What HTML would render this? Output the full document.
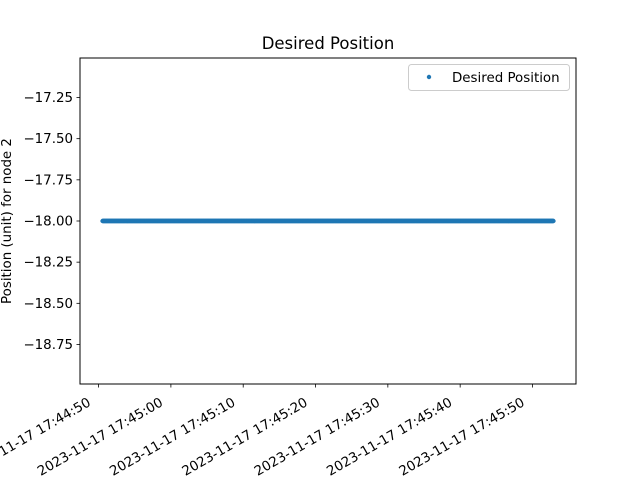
<!DOCTYPE html>
<html><head><meta charset="utf-8"><style>
html,body{margin:0;padding:0;background:#fff;}
svg{display:block;font-family:"DejaVu Sans","Liberation Sans",sans-serif;}
</style></head><body>
<svg id="chart" width="640" height="480" xmlns="http://www.w3.org/2000/svg">
<rect x="0" y="0" width="640" height="480" fill="#fff"/>
<text x="328" y="49" text-anchor="middle" font-size="16.5" fill="#000">Desired Position</text>
<g id="plot"></g>
<rect x="80" y="58" width="496" height="326" fill="none" stroke="#000" stroke-width="1"/>
<text transform="translate(11,221) rotate(-90)" text-anchor="middle" font-size="13.4" fill="#000">Position (unit) for node 2</text>
<g>
<rect x="408.5" y="64.5" width="161" height="26" rx="3" fill="#fff" stroke="#ccc"/>
<circle cx="429" cy="77" r="2.2" fill="#1f77b4"/>
<text x="452" y="82" font-size="13.4" fill="#000">Desired Position</text>
</g>
</svg>
<script>
const yTicks = [-17.25, -17.5, -17.75, -18, -18.25, -18.5, -18.75];
const yTickLabels = ["\u221217.25", "\u221217.50", "\u221217.75", "\u221218.00", "\u221218.25", "\u221218.50", "\u221218.75"];
const xTicks = [0, 10, 20, 30, 40, 50, 60]; // seconds after 17:44:50
const xTickLabels = ["2023-11-17 17:44:50","2023-11-17 17:45:00","2023-11-17 17:45:10","2023-11-17 17:45:20","2023-11-17 17:45:30","2023-11-17 17:45:40","2023-11-17 17:45:50"];
const seriesStart = 0.55;   // seconds after 17:44:50
const seriesEnd = 62.9;
const seriesValue = -18;

const L=80,R=576,T=58,B=384;
const xMin = seriesStart - 0.05*(seriesEnd-seriesStart), xMax = seriesEnd + 0.05*(seriesEnd-seriesStart);
const yMin = -18.99, yMax = -17.01;
function xs(v){return L+(v-xMin)/(xMax-xMin)*(R-L);}
function ys(v){return B-(v-yMin)/(yMax-yMin)*(B-T);}
const NS="http://www.w3.org/2000/svg";
const svg=document.getElementById('chart');
const plot=document.getElementById('plot');
function mk(tag,attrs,parent){const e=document.createElementNS(NS,tag);for(const k in attrs)e.setAttribute(k,attrs[k]);(parent||svg).appendChild(e);return e;}
yTicks.forEach((v,i)=>{
  const y=ys(v);
  const t=mk('line',{x1:L-3.5,x2:L,y1:y,y2:y,stroke:'#000','stroke-width':0.8});
  
  
  const tx=mk('text',{x:L-7,y:y+4.5,'text-anchor':'end','font-size':13.4,fill:'#000'});
  tx.textContent=yTickLabels[i];
  
  
});
xTicks.forEach((v,i)=>{
  const x=xs(v);
  const t=mk('line',{x1:x,x2:x,y1:B,y2:B+3.5,stroke:'#000','stroke-width':0.8});
  
  
  const tx=mk('text',{transform:`translate(${x-7},${B+21}) rotate(-30)`,'text-anchor':'end','font-size':13.4,fill:'#000'});
  tx.textContent=xTickLabels[i];
  
  
});
// sampled points every 0.05 s between start and end, each at the series value
for(let t=seriesStart;t<=seriesEnd+1e-9;t+=0.05){
  const c=mk('circle',{cx:xs(t),cy:ys(seriesValue),r:2.2,fill:'#1f77b4'},plot);
  
  
}
</script>
</body></html>
